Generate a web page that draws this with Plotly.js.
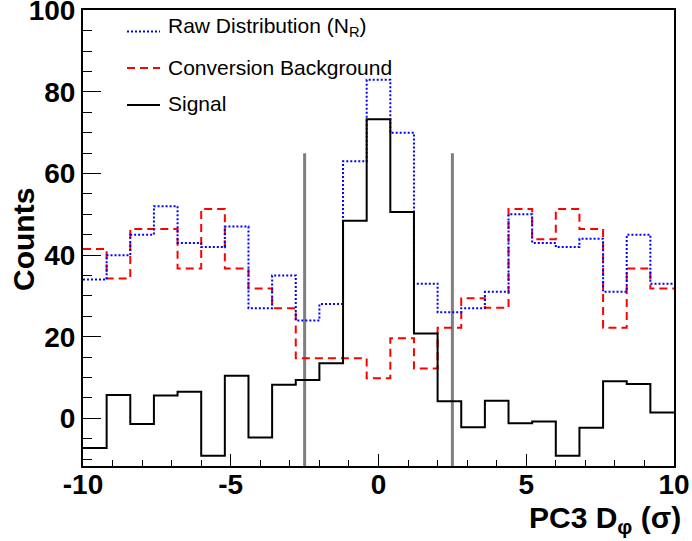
<!DOCTYPE html>
<html>
<head>
<meta charset="utf-8">
<script src="https://cdn.plot.ly/plotly-3.0.1.min.js"></script>
<style>html,body{margin:0;padding:0;background:#fff;}#chart{width:692px;height:541px;}</style>
</head>
<body>
<div id="chart"></div>
<script>
// Histogram binning
const binLow = -10;
const binWidth = 0.8;
// Raw distribution (N_R)
const rawCounts = [34, 40, 45, 52, 43, 42, 47, 27, 35, 24, 28, 63, 83, 70, 33, 26, 27, 31, 50, 43, 42, 44, 31, 45, 33];
// Conversion background
const bkgCounts = [41.5, 34.3, 46.4, 46.4, 36.7, 51.3, 36.7, 31.8, 27.0, 14.7, 14.7, 14.7, 9.8, 19.6, 12.2, 22.2, 29.4, 27.1, 51.3, 43.9, 51.3, 46.4, 22.2, 36.7, 31.8];
// Signal
const sigCounts = [-7.3, 5.7, -1.4, 5.6, 6.5, -9.2, 10.4, -4.7, 8.2, 9.4, 13.5, 48.4, 73.3, 50.6, 20.8, 4.2, -2.2, 4.3, -1.2, -0.8, -9.2, -2.3, 9.1, 8.4, 1.4];
// Cut lines
const cutPositions = [-2.5, 2.5];
const cutTop = 65;
const yMin = -11.7, yMax = 100.1;
const xTickVals = [-10, -5, 0, 5, 10];
const yTickVals = [0, 20, 40, 60, 80, 100];

const legendLabels = ['Raw Distribution (N<sub>R</sub>)', 'Conversion Background', 'Signal'];

function stepTrace(vals, color, dash, width) {
  const xs = vals.map((v, i) => binLow + i * binWidth);
  xs.push(binLow + vals.length * binWidth);
  const ys = vals.slice();
  ys.push(vals[vals.length - 1]);
  return {x: xs, y: ys, type: 'scatter', mode: 'lines', line: {shape: 'hv', color: color, dash: dash, width: width}, showlegend: false, hoverinfo: 'skip'};
}

const FONT = 'Liberation Sans, Arial, Helvetica, sans-serif';
const traces = [];
cutPositions.forEach(c => traces.push({x: [c, c], y: [yMin, cutTop], type: 'scatter', mode: 'lines', line: {color: '#7f7f7f', width: 3}, showlegend: false, hoverinfo: 'skip'}));
traces.push(stepTrace(bkgCounts, '#ff0000', '8px,5px', 2));
traces.push(stepTrace(rawCounts, '#0000ff', '2px,2px', 2));
traces.push(stepTrace(sigCounts, '#000000', 'solid', 2));

// manual legend
const L = 83, R = 674, T = 10, B = 466;
const px = v => (v - L) / (R - L);
const py = v => (B - v) / (B - T);
const legY = [31.5, 68, 105];
const legTextY = [27, 67, 104];
const legStyles = [{color: '#0000ff', dash: '2px,2px'}, {color: '#ff0000', dash: '8px,5px'}, {color: '#000000', dash: 'solid'}];
const shapes = legStyles.map((s, i) => ({type: 'line', xref: 'paper', yref: 'paper', x0: px(127), x1: px(160), y0: py(legY[i]), y1: py(legY[i]), line: {color: s.color, dash: s.dash, width: 2}}));
const annotations = legendLabels.map((t, i) => ({xref: 'paper', yref: 'paper', x: px(166), y: py(legTextY[i]), xanchor: 'left', yanchor: 'middle', text: t, showarrow: false, font: {family: FONT, size: 21, color: '#000'}}));
annotations.push({xref: 'paper', yref: 'paper', x: px(683), y: py(519), xanchor: 'right', yanchor: 'middle', text: '<b>PC3 D<sub>φ</sub> (σ)</b>', showarrow: false, font: {family: FONT, size: 30, color: '#000'}});
annotations.push({xref: 'paper', yref: 'paper', x: px(23), y: py(240), xanchor: 'center', yanchor: 'middle', textangle: -90, text: '<b>Counts</b>', showarrow: false, font: {family: FONT, size: 30, color: '#000'}});

const layout = {
  width: 692, height: 541,
  margin: {l: L, r: 692 - R, t: T, b: 541 - B, pad: 0},
  paper_bgcolor: '#fff', plot_bgcolor: '#fff',
  showlegend: false,
  xaxis: {range: [-10, 10], tickvals: xTickVals, ticktext: xTickVals.map(String), ticks: 'inside', ticklen: 12, tickwidth: 1, tickcolor: '#000',
    minor: {dtick: 1, ticks: 'inside', ticklen: 6, tickcolor: '#000', tickwidth: 1, showgrid: false},
    showgrid: false, zeroline: false, showline: true, linecolor: '#000', linewidth: 2, mirror: true,
    tickfont: {family: FONT, size: 28, color: '#000', weight: 'bold'}, ticklabelstandoff: -8, ticklabeloverflow: 'allow'},
  yaxis: {range: [yMin, yMax], tickvals: yTickVals, ticktext: yTickVals.map(String), ticks: 'inside', ticklen: 18, tickwidth: 1, tickcolor: '#000',
    minor: {tick0: 0, dtick: 5, ticks: 'inside', ticklen: 9, tickcolor: '#000', tickwidth: 1, showgrid: false},
    showgrid: false, zeroline: false, showline: true, linecolor: '#000', linewidth: 2, mirror: true,
    tickfont: {family: FONT, size: 28, color: '#000', weight: 'bold'}, ticklabelstandoff: 0, ticklabeloverflow: 'allow'},
  shapes: shapes,
  annotations: annotations
};
Plotly.newPlot('chart', traces, layout, {displayModeBar: false, staticPlot: true});
</script>
</body>
</html>
